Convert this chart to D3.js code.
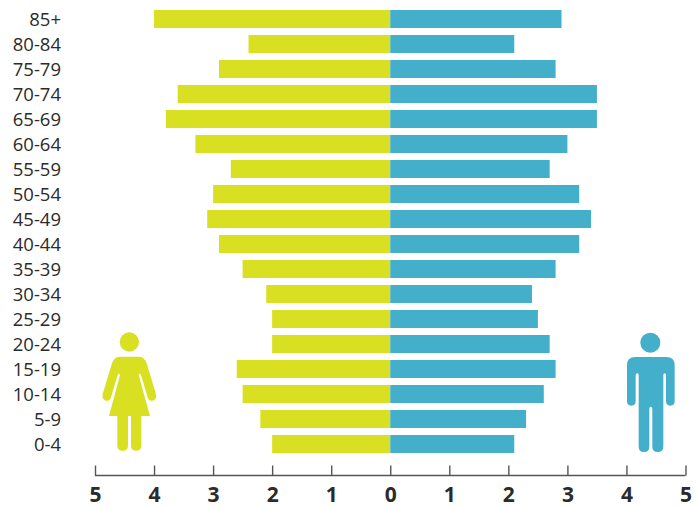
<!DOCTYPE html>
<html>
<head>
<meta charset="utf-8">
<script src="https://cdn.jsdelivr.net/npm/d3@7"></script>
<style>
  html, body { margin: 0; padding: 0; background: #fff; }
  svg { display: block; }
  text { font-family: "Open Sans", sans-serif; fill: #2b2b2b; }
</style>
</head>
<body>
<div id="chart"></div>
<script>
var ages = ["85+","80-84","75-79","70-74","65-69","60-64","55-59","50-54","45-49","40-44","35-39","30-34","25-29","20-24","15-19","10-14","5-9","0-4"];
var women = [4.0,2.4,2.9,3.6,3.8,3.3,2.7,3.0,3.1,2.9,2.5,2.1,2.0,2.0,2.6,2.5,2.2,2.0];
var men = [2.9,2.1,2.8,3.5,3.5,3.0,2.7,3.2,3.4,3.2,2.8,2.4,2.5,2.7,2.8,2.6,2.3,2.1];
var tickValues = [-5,-4,-3,-2,-1,0,1,2,3,4,5];

var yellow = "#d9e021", blue = "#43afcb";

var svg = d3.select("#chart").append("svg").attr("width", 698).attr("height", 509);

var x = d3.scaleLinear().domain([-5, 5]).range([95, 685.5]);
var y = d3.scaleBand().domain(ages).range([6.5, 456.5]).paddingInner(0.28).paddingOuter(0.14);

svg.selectAll("rect.women").data(ages).enter().append("rect")
    .attr("class", "women")
    .attr("x", function(d, i) { return x(-women[i]); })
    .attr("y", function(d) { return y(d); })
    .attr("width", function(d, i) { return x(0) - x(-women[i]); })
    .attr("height", y.bandwidth())
    .attr("fill", yellow);

svg.selectAll("rect.men").data(ages).enter().append("rect")
    .attr("class", "men")
    .attr("x", x(0))
    .attr("y", function(d) { return y(d); })
    .attr("width", function(d, i) { return x(men[i]) - x(0); })
    .attr("height", y.bandwidth())
    .attr("fill", blue);

// age labels
svg.selectAll("text.age").data(ages).enter().append("text")
    .attr("class", "age")
    .attr("x", 61)
    .attr("y", function(d) { return y(d) + y.bandwidth() / 2; })
    .attr("dy", "0.36em")
    .attr("text-anchor", "end")
    .attr("font-size", 18.5)
    .text(function(d) { return d; });

// bottom axis, labels are absolute values on both sides
var axis = d3.axisBottom(x)
    .tickValues(tickValues)
    .tickSize(-10)
    .tickPadding(14)
    .tickFormat(function(d) { return Math.abs(d); });

var g = svg.append("g").attr("transform", "translate(0,475.5)").call(axis);
g.selectAll("path, line").attr("stroke", "#555").attr("stroke-width", 1.4);
g.select(".domain").attr("d", "M" + x(-5) + ",0H" + x(5));
g.selectAll("text")
    .attr("font-family", '"Open Sans", sans-serif')
    .attr("font-size", 21)
    .attr("font-weight", 700)
    .attr("fill", "#2b2b2b")
    .attr("y", 12);

// woman icon
var woman = svg.append("g").attr("transform", "translate(80,320) scale(0.3333)").attr("fill", yellow);
woman.append("circle").attr("cx", 148).attr("cy", 66).attr("r", 29);
woman.append("path").attr("d",
    "M118,110 H178 Q193,110 200,130 L228,222 Q232,238 218,242 Q207,245 203,232 L183,165 Q179,157 176,165" +
    " L210,288 H184 V378 Q184,392 168,392 Q153,392 153,378 V288 H144 V378 Q144,392 128,392 Q112,392 112,378 V288 H87" +
    " L120,165 Q117,157 113,165 L93,232 Q89,245 78,242 Q64,238 68,222 L96,130 Q103,110 118,110 Z");

// man icon
var man = svg.append("g").attr("transform", "translate(598,320) scale(0.3333)").attr("fill", blue);
man.append("circle").attr("cx", 157).attr("cy", 68).attr("r", 30);
man.append("path").attr("d",
    "M112,111 H205 Q230,111 230,136 V244 Q230,257 217,257 Q204,257 204,244 V166 Q204,160 200,160 Q196,160 196,166" +
    " V380 Q196,396 179,396 Q163,396 163,380 V267 Q163,260 158,260 Q154,260 154,267 V380 Q154,396 138,396 Q122,396 122,380" +
    " V166 Q122,160 118,160 Q113,160 113,166 V244 Q113,257 100,257 Q87,257 87,244 V136 Q87,111 112,111 Z");
</script>
</body>
</html>
